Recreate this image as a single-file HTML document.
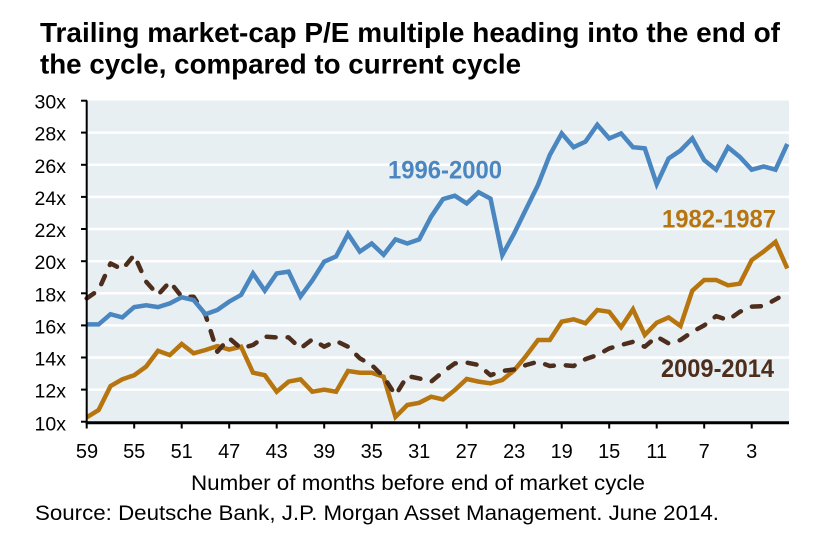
<!DOCTYPE html>
<html><head><meta charset="utf-8"><style>
html,body{margin:0;padding:0;background:#fff;}
svg{display:block;}
text{font-family:"Liberation Sans",Arial,sans-serif;}
</style></head><body>
<svg width="816" height="541" viewBox="0 0 816 541" xmlns="http://www.w3.org/2000/svg">
<rect width="816" height="541" fill="#fff"/>
<!-- title -->
<text x="40" y="42" font-size="28" font-weight="bold" fill="#000" textLength="740" lengthAdjust="spacingAndGlyphs">Trailing market-cap P/E multiple heading into the end of</text>
<text x="40" y="73.5" font-size="28" font-weight="bold" fill="#000" textLength="481" lengthAdjust="spacingAndGlyphs">the cycle, compared to current cycle</text>
<!-- plot background -->
<rect x="87" y="100.5" width="702" height="321.5" fill="#e8eff3"/>
<!-- gridlines -->
<g stroke="#fff" stroke-width="2.5">
<line x1="88" x2="789" y1="132.6" y2="132.6"/>
<line x1="88" x2="789" y1="164.8" y2="164.8"/>
<line x1="88" x2="789" y1="196.9" y2="196.9"/>
<line x1="88" x2="789" y1="229.0" y2="229.0"/>
<line x1="88" x2="789" y1="261.2" y2="261.2"/>
<line x1="88" x2="789" y1="293.3" y2="293.3"/>
<line x1="88" x2="789" y1="325.4" y2="325.4"/>
<line x1="88" x2="789" y1="357.5" y2="357.5"/>
<line x1="88" x2="789" y1="389.6" y2="389.6"/>
</g>
<!-- y labels -->
<g font-size="19.5" fill="#000" text-anchor="end">
<text x="66" y="108.5">30x</text>
<text x="66" y="140.6">28x</text>
<text x="66" y="172.8">26x</text>
<text x="66" y="204.9">24x</text>
<text x="66" y="237.0">22x</text>
<text x="66" y="269.2">20x</text>
<text x="66" y="301.3">18x</text>
<text x="66" y="333.4">16x</text>
<text x="66" y="365.5">14x</text>
<text x="66" y="397.6">12x</text>
<text x="66" y="430.5">10x</text>
</g>
<!-- y ticks -->
<g stroke="#000" stroke-width="2">
<line x1="81" x2="87" y1="100.7" y2="100.7"/>
<line x1="81" x2="87" y1="132.6" y2="132.6"/>
<line x1="81" x2="87" y1="164.8" y2="164.8"/>
<line x1="81" x2="87" y1="196.9" y2="196.9"/>
<line x1="81" x2="87" y1="229.0" y2="229.0"/>
<line x1="81" x2="87" y1="261.2" y2="261.2"/>
<line x1="81" x2="87" y1="293.3" y2="293.3"/>
<line x1="81" x2="87" y1="325.4" y2="325.4"/>
<line x1="81" x2="87" y1="357.5" y2="357.5"/>
<line x1="81" x2="87" y1="389.6" y2="389.6"/>
<line x1="81" x2="87" y1="421.7" y2="421.7"/>
</g>
<!-- series: 1982-1987 (orange) -->
<polyline fill="none" stroke="#b7750f" stroke-width="4.5" stroke-linejoin="miter" stroke-miterlimit="3" points="
86.7,417.4 98.6,410.0 110.5,386.1 122.3,379.3 134.2,375.2 146.1,366.6 158.0,350.8 169.8,355.1 181.7,344.0 193.6,353.3
205.5,350.0 217.3,346.1 229.2,349.5 241.1,346.7 253.0,372.7 264.8,375.2 276.7,391.7 288.6,381.6 300.5,379.3 312.3,391.7
324.2,389.6 336.1,391.7 348.0,371.0 359.8,372.7 371.7,372.7 383.6,376.8 395.5,416.9 407.3,405.0 419.2,402.8 431.1,396.7
443.0,399.4 454.8,390.1 466.7,379.0 478.6,381.6 490.5,383.3 502.3,380.0 514.2,370.3 526.1,355.9 538.0,340.0 549.8,340.0
561.7,321.7 573.6,319.3 585.5,323.3 597.3,310.0 609.2,311.8 621.1,327.3 633.0,309.3 644.8,335.0 656.7,322.7 668.6,317.4
680.5,326.0 692.3,290.7 704.2,280.0 716.1,280.0 728.0,285.3 739.8,283.7 751.7,260.1 763.6,251.6 775.5,241.9 787.3,268.4"/>
<!-- series: 2009-2014 (dashed) -->
<polyline fill="none" stroke="#4d2d1b" stroke-width="4.5" stroke-dasharray="9 12" stroke-linecap="round" stroke-linejoin="round" points="
86.7,298.4 98.6,290.1 110.5,263.4 122.3,269.4 134.2,255.1 146.1,281.7 158.0,294.9 169.8,281.7 181.7,296.7 193.6,296.7
205.5,315.0 217.3,351.7 229.2,338.2 241.1,348.4 253.0,345.0 264.8,336.6 276.7,337.4 288.6,337.4 300.5,348.4 312.3,339.4
324.2,346.7 336.1,341.0 348.0,346.7 359.8,358.3 371.7,365.0 383.6,376.8 395.5,395.1 407.3,376.0 419.2,378.4 431.1,381.7
443.0,371.9 454.8,363.4 466.7,362.6 478.6,365.0 490.5,375.2 502.3,371.0 514.2,369.4 526.1,365.0 538.0,361.7 549.8,366.0
561.7,365.0 573.6,366.0 585.5,359.1 597.3,355.1 609.2,348.4 621.1,345.0 633.0,341.8 644.8,346.7 656.7,336.6 668.6,343.4
680.5,340.0 692.3,331.8 704.2,325.4 716.1,316.1 728.0,320.1 739.8,311.8 751.7,306.6 763.6,306.1 778.5,297.8"/>
<!-- series: 1996-2000 (blue) -->
<polyline fill="none" stroke="#4a86c0" stroke-width="4.5" stroke-linejoin="miter" stroke-miterlimit="3" points="
86.7,324.4 98.6,324.4 110.5,314.2 122.3,317.4 134.2,307.1 146.1,305.3 158.0,307.1 169.8,303.4 181.7,297.3 193.6,300.0
205.5,314.2 217.3,310.0 229.2,301.6 241.1,294.9 253.0,273.4 264.8,290.7 276.7,273.4 288.6,271.6 300.5,296.5 312.3,280.5
324.2,261.7 336.1,256.4 348.0,233.9 359.8,251.6 371.7,243.5 383.6,254.8 395.5,239.4 407.3,243.5 419.2,239.4 431.1,216.7
443.0,199.1 454.8,195.7 466.7,203.4 478.6,192.3 490.5,198.6 502.3,255.1 514.2,233.4 526.1,209.0 538.0,185.0 549.8,155.0
561.7,133.4 573.6,147.2 585.5,141.6 597.3,124.8 609.2,138.4 621.1,133.4 633.0,147.2 644.8,148.4 656.7,184.2 668.6,158.5
680.5,150.5 692.3,138.4 704.2,160.1 716.1,169.7 728.0,147.2 739.8,156.9 751.7,169.7 763.6,166.5 775.5,169.7 787.3,144.0"/>
<!-- axes -->
<line x1="86.7" y1="100.5" x2="86.7" y2="424" stroke="#000" stroke-width="2"/>
<line x1="85.7" y1="422.7" x2="789" y2="422.7" stroke="#000" stroke-width="3"/>
<g stroke="#000" stroke-width="2">
<line x1="86.7" x2="86.7" y1="422" y2="428.5"/>
<line x1="134.2" x2="134.2" y1="422" y2="428.5"/>
<line x1="181.7" x2="181.7" y1="422" y2="428.5"/>
<line x1="229.2" x2="229.2" y1="422" y2="428.5"/>
<line x1="276.7" x2="276.7" y1="422" y2="428.5"/>
<line x1="324.2" x2="324.2" y1="422" y2="428.5"/>
<line x1="371.7" x2="371.7" y1="422" y2="428.5"/>
<line x1="419.2" x2="419.2" y1="422" y2="428.5"/>
<line x1="466.7" x2="466.7" y1="422" y2="428.5"/>
<line x1="514.2" x2="514.2" y1="422" y2="428.5"/>
<line x1="561.7" x2="561.7" y1="422" y2="428.5"/>
<line x1="609.2" x2="609.2" y1="422" y2="428.5"/>
<line x1="656.7" x2="656.7" y1="422" y2="428.5"/>
<line x1="704.2" x2="704.2" y1="422" y2="428.5"/>
<line x1="751.7" x2="751.7" y1="422" y2="428.5"/>
</g>
<!-- x labels -->
<g font-size="20" fill="#000" text-anchor="middle">
<text x="87" y="458">59</text>
<text x="134.2" y="458">55</text>
<text x="181.7" y="458">51</text>
<text x="229.2" y="458">47</text>
<text x="276.7" y="458">43</text>
<text x="324.2" y="458">39</text>
<text x="371.7" y="458">35</text>
<text x="419.2" y="458">31</text>
<text x="466.7" y="458">27</text>
<text x="514.2" y="458">23</text>
<text x="561.7" y="458">19</text>
<text x="609.2" y="458">15</text>
<text x="656.7" y="458">11</text>
<text x="704.2" y="458">7</text>
<text x="751.7" y="458">3</text>
</g>
<text x="191" y="490" font-size="21.5" fill="#000" textLength="454" lengthAdjust="spacingAndGlyphs">Number of months before end of market cycle</text>
<text x="35" y="520" font-size="21.5" fill="#000" textLength="684" lengthAdjust="spacingAndGlyphs">Source: Deutsche Bank, J.P. Morgan Asset Management.  June 2014.</text>
<!-- series labels -->
<text x="388" y="178.3" font-size="25" font-weight="bold" fill="#4a86c0" textLength="114" lengthAdjust="spacingAndGlyphs">1996-2000</text>
<text x="662" y="227.5" font-size="25" font-weight="bold" fill="#b7750f" textLength="114" lengthAdjust="spacingAndGlyphs">1982-1987</text>
<text x="661" y="377" font-size="25" font-weight="bold" fill="#4d2d1b" textLength="113" lengthAdjust="spacingAndGlyphs">2009-2014</text>
</svg>
</body></html>
